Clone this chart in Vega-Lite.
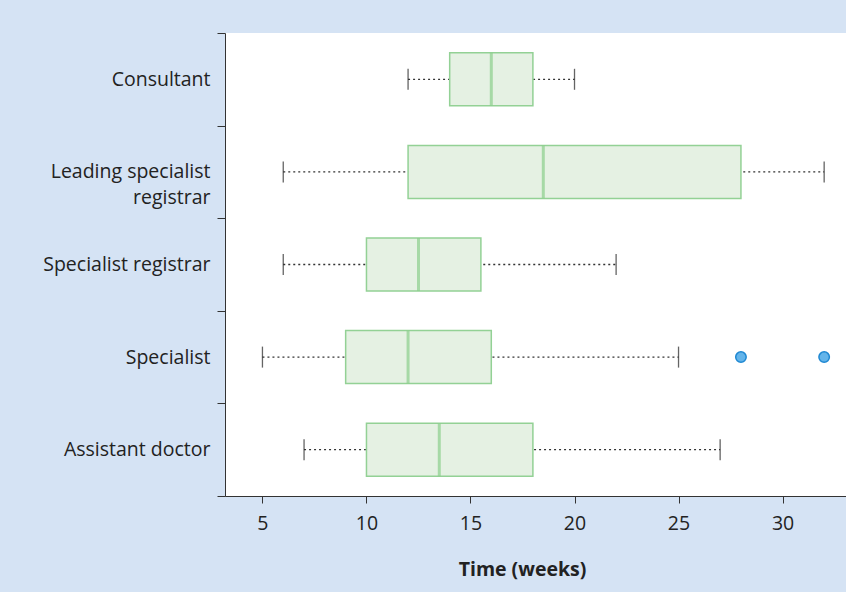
{
  "$schema": "https://vega.github.io/schema/vega-lite/v6.json",
  "autosize": {"type": "none"},
  "width": 621,
  "height": 463,
  "padding": {"left": 225, "top": 33, "right": 0, "bottom": 96},
  "background": "#d5e3f4",
  "config": {
    "view": {"fill": "white", "stroke": null},
    "font": "Open Sans",
    "axis": {
      "domainColor": "#333333",
      "tickColor": "#333333",
      "labelColor": "#222222",
      "titleColor": "#222222",
      "labelFont": "Open Sans",
      "titleFont": "Open Sans",
      "grid": false
    }
  },
  "datasets": {
    "boxes": [
      {"role": "Consultant", "lo": 12, "q1": 14, "med": 16, "q3": 18, "hi": 20},
      {"role": "Leading specialist registrar", "lo": 6, "q1": 12, "med": 18.5, "q3": 28, "hi": 32},
      {"role": "Specialist registrar", "lo": 6, "q1": 10, "med": 12.5, "q3": 15.5, "hi": 22},
      {"role": "Specialist", "lo": 5, "q1": 9, "med": 12, "q3": 16, "hi": 25},
      {"role": "Assistant doctor", "lo": 7, "q1": 10, "med": 13.5, "q3": 18, "hi": 27}
    ],
    "outliers": [
      {"role": "Specialist", "value": 28},
      {"role": "Specialist", "value": 32}
    ]
  },
  "data": {"name": "boxes"},
  "encoding": {
    "y": {
      "field": "role",
      "type": "nominal",
      "sort": ["Consultant", "Leading specialist registrar", "Specialist registrar", "Specialist", "Assistant doctor"],
      "scale": {"paddingInner": 0, "paddingOuter": 0},
      "axis": {
        "title": null,
        "tickBand": "extent",
        "tickSize": 8,
        "labelFontSize": 19.5,
        "labelPadding": 7,
        "labelLimit": 300,
        "labelLineHeight": 26,
        "labelExpr": "datum.value == 'Leading specialist registrar' ? ['Leading specialist', 'registrar'] : datum.value"
      }
    }
  },
  "layer": [
    {
      "mark": {"type": "rule", "color": "#333333", "strokeWidth": 1.3, "strokeDash": [2, 3]},
      "encoding": {
        "x": {
          "field": "lo",
          "type": "quantitative",
          "scale": {"domain": [3.2, 33.05], "nice": false, "zero": false},
          "axis": {
            "title": "Time (weeks)",
            "values": [5, 10, 15, 20, 25, 30],
            "tickSize": 7,
            "labelFontSize": 19.5,
            "labelPadding": 11,
            "titleFontSize": 19.5,
            "titleFontWeight": "bold",
            "titlePadding": 28,
            "titleX": 297
          }
        },
        "x2": {"field": "hi"}
      }
    },
    {
      "mark": {"type": "tick", "color": "#222222", "thickness": 1.3, "size": 21, "orient": "vertical"},
      "encoding": {"x": {"field": "lo", "type": "quantitative"}}
    },
    {
      "mark": {"type": "tick", "color": "#222222", "thickness": 1.3, "size": 21, "orient": "vertical"},
      "encoding": {"x": {"field": "hi", "type": "quantitative"}}
    },
    {
      "mark": {"type": "bar", "size": 53, "fill": "#e5f1e3", "stroke": "#93d195", "strokeWidth": 1.5},
      "encoding": {
        "x": {"field": "q1", "type": "quantitative"},
        "x2": {"field": "q3"}
      }
    },
    {
      "mark": {"type": "tick", "color": "#8ccf8c", "thickness": 3, "size": 53, "orient": "vertical"},
      "encoding": {"x": {"field": "med", "type": "quantitative"}}
    },
    {
      "data": {"name": "outliers"},
      "mark": {"type": "point", "filled": true, "fill": "#63b4ea", "stroke": "#1f88d2", "strokeWidth": 1.5, "size": 110, "opacity": 1},
      "encoding": {
        "x": {"field": "value", "type": "quantitative"},
        "y": {"field": "role", "type": "nominal", "sort": ["Consultant", "Leading specialist registrar", "Specialist registrar", "Specialist", "Assistant doctor"]}
      }
    }
  ]
}
